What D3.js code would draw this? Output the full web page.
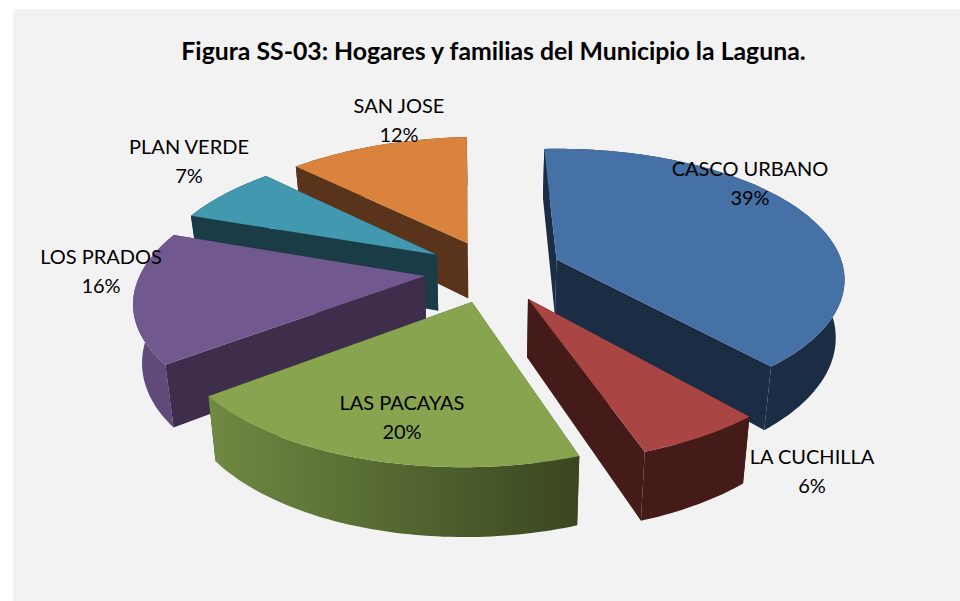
<!DOCTYPE html>
<html>
<head>
<meta charset="utf-8">
<script src="https://cdnjs.cloudflare.com/ajax/libs/d3/7.8.5/d3.min.js"></script>
<style>
  html, body { margin: 0; padding: 0; background: #ffffff; }
  svg { display: block; }
  text { font-family: Lato, "Open Sans", sans-serif; fill: #000000; }
</style>
</head>
<body>
<div id="chart"></div>
<script>
const titleText = "Figura SS-03: Hogares y familias del Municipio la Laguna.";
const categories = ["CASCO URBANO", "LA CUCHILLA", "LAS PACAYAS", "LOS PRADOS", "PLAN VERDE", "SAN JOSE"];
const percents = [39, 6, 20, 16, 7, 12];

// top face, straight wall, outer rim wall (two colours = gradient left to right)
const topColors = ["#4571a6", "#a94543", "#89a44e", "#71588f", "#4198af", "#da833c"];
const wallColors = ["#1b2d45", "#451b19", "#3f4f22", "#3e2e4c", "#1a3c47", "#59331a"];
const rimColors = [["#1b2d45", "#1b2d45"], ["#451b19", "#451b19"], ["#6f8a42", "#3a4620"],
    ["#5f4a7a", "#5f4a7a"], ["#1a3c47", "#1a3c47"], ["#59331a", "#59331a"]];

// label centres, placed by hand like in the original
const labelPos = [[750, 169], [812, 457], [402, 403], [101, 257], [189, 147], [399, 106]];

const width = 960, height = 601;
const cx = 493, cy = 271;
const explode = 0.24, persp = 0.15, depth = 57, bottomShrink = 0.975, shear = 4, tilt = 5;

const x = d3.scaleLinear().domain([-1, 1]).range([cx - 286, cx + 286]);
const y = d3.scaleLinear().domain([-1, 1]).range([cy + 130, cy - 130]);

const svg = d3.select("#chart").append("svg")
    .attr("width", width)
    .attr("height", height);

svg.append("rect")
    .attr("x", 13).attr("y", 9)
    .attr("width", 947).attr("height", 592)
    .attr("fill", "#f2f2f2");

const defs = svg.append("defs");

const pie = d3.pie().sort(null);
const slices = pie(percents).map((d, i) => {
    const mid = (d.startAngle + d.endAngle) / 2;
    return Object.assign(d, {i: i, du: explode * Math.sin(mid), dv: explode * Math.cos(mid)});
});

// ground plane point -> screen, level 0 is the top face and 1 the bottom
const project = (d, u, v, level) => {
    const s = 1 / (1 + persp * (v + d.dv));
    let px = x((u + d.du) * s) - shear * (v + d.dv);
    let py = y((v + d.dv) * s) - tilt * (u + d.du);
    if (level === 1) {
        px = cx + (px - cx) * bottomShrink;
        py = py + depth * s;
    }
    return [px, py];
};

const rimPoint = (d, a, level) => project(d, Math.sin(a), Math.cos(a), level);
const apexPoint = (d, level) => project(d, 0, 0, level);
const line = d3.line();

const arcAngles = d => {
    const steps = Math.ceil((d.endAngle - d.startAngle) / 0.02);
    return d3.range(steps + 1).map(k => d.startAngle + (d.endAngle - d.startAngle) * k / steps);
};

const wallPath = (d, a) => line([apexPoint(d, 0), rimPoint(d, a, 0), rimPoint(d, a, 1), apexPoint(d, 1)]) + "Z";

// back slices first so the front ones cover their walls
const ordered = slices.slice().sort((p, q) => q.dv - p.dv);

const groups = svg.selectAll("g.slice")
    .data(ordered)
    .enter().append("g")
    .attr("class", "slice");

groups.each(function(d) {
    const g = d3.select(this);
    const angles = arcAngles(d);
    const gradId = "rim" + d.i;
    const xs = angles.map(a => rimPoint(d, a, 0)[0]);

    const grad = defs.append("linearGradient")
        .attr("id", gradId)
        .attr("gradientUnits", "userSpaceOnUse")
        .attr("x1", d3.min(xs)).attr("x2", d3.max(xs))
        .attr("y1", 0).attr("y2", 0);
    grad.append("stop").attr("offset", 0).attr("stop-color", rimColors[d.i][0]);
    grad.append("stop").attr("offset", 1).attr("stop-color", rimColors[d.i][1]);

    const rimTop = angles.map(a => rimPoint(d, a, 0));
    const rimBottom = angles.map(a => rimPoint(d, a, 1)).reverse();

    // a straight wall faces the viewer only on one side of the slice
    const startFront = Math.sin(d.startAngle) < -1e-6;
    const endFront = Math.sin(d.endAngle) > 1e-6;

    if (!startFront) g.append("path").attr("d", wallPath(d, d.startAngle)).attr("fill", wallColors[d.i]);
    if (!endFront) g.append("path").attr("d", wallPath(d, d.endAngle)).attr("fill", wallColors[d.i]);

    g.append("path")
        .attr("d", line(rimTop.concat(rimBottom)) + "Z")
        .attr("fill", "url(#" + gradId + ")");

    if (startFront) g.append("path").attr("d", wallPath(d, d.startAngle)).attr("fill", wallColors[d.i]);
    if (endFront) g.append("path").attr("d", wallPath(d, d.endAngle)).attr("fill", wallColors[d.i]);

    g.append("path")
        .attr("d", line([apexPoint(d, 0)].concat(rimTop)) + "Z")
        .attr("fill", topColors[d.i]);
});

svg.append("text")
    .attr("x", 493.5)
    .attr("y", 60)
    .attr("text-anchor", "middle")
    .style("font-size", "24.8px")
    .style("font-weight", "bold")
    .text(titleText);

const labels = svg.selectAll("g.label")
    .data(slices)
    .enter().append("g")
    .attr("class", "label")
    .attr("text-anchor", "middle")
    .style("font-size", "20px");

labels.append("text")
    .attr("x", d => labelPos[d.i][0])
    .attr("y", d => labelPos[d.i][1] + 7)
    .text(d => categories[d.i]);

labels.append("text")
    .attr("x", d => labelPos[d.i][0])
    .attr("y", d => labelPos[d.i][1] + 36)
    .text(d => d.value + "%");
</script>
</body>
</html>
